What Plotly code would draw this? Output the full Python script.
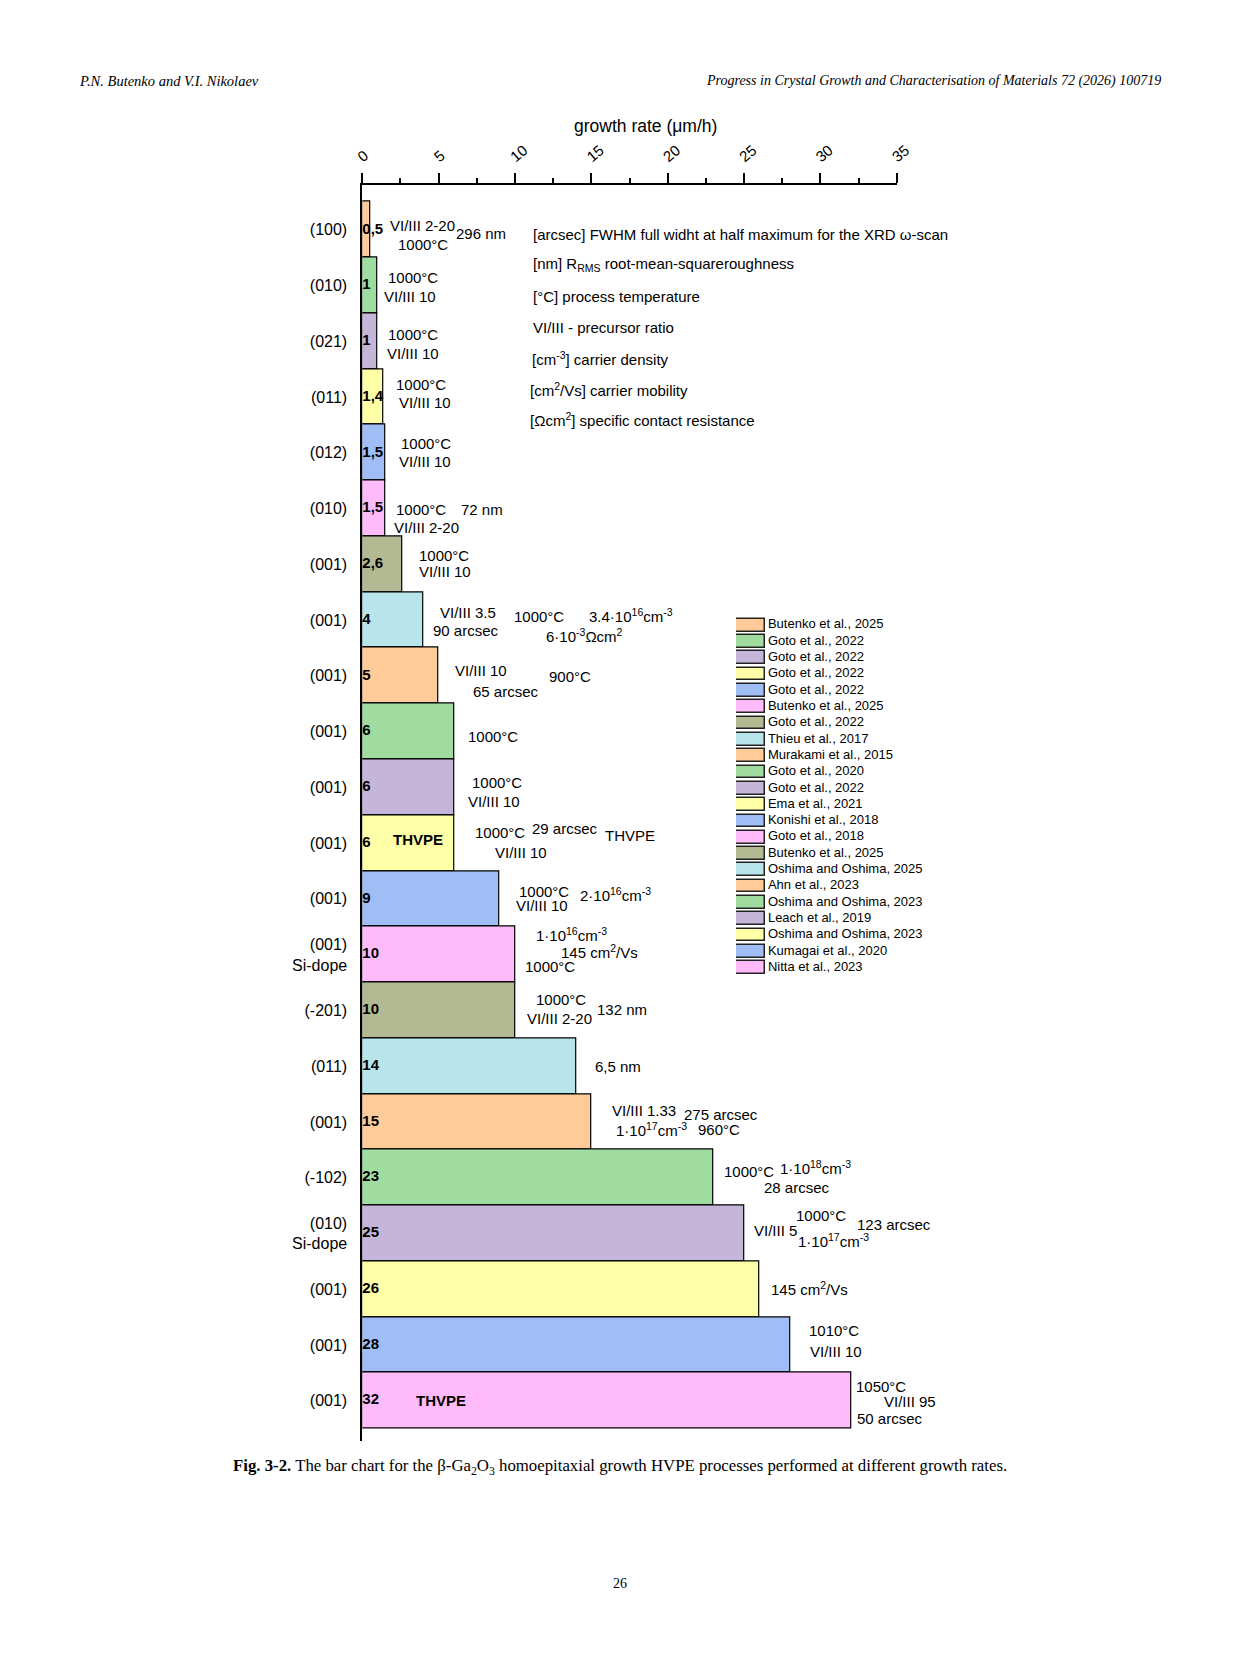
import plotly.graph_objects as go

# growth rates of beta-Ga2O3 HVPE homoepitaxy, top to bottom
planes = ['(100)', '(010)', '(021)', '(011)', '(012)', '(010)', '(001)', '(001)',
          '(001)', '(001)', '(001)', '(001)', '(001)', '(001)<br>Si-dope', '(-201)',
          '(011)', '(001)', '(-102)', '(010)<br>Si-dope', '(001)', '(001)', '(001)']
rates = [0.5, 1, 1, 1.4, 1.5, 1.5, 2.6, 4, 5, 6, 6, 6, 9, 10, 10, 14, 15, 23, 25, 26, 28, 32]
sources = ['Butenko et al., 2025', 'Goto et al., 2022', 'Goto et al., 2022',
           'Goto et al., 2022', 'Goto et al., 2022', 'Butenko et al., 2025',
           'Goto et al., 2022', 'Thieu et al., 2017', 'Murakami et al., 2015',
           'Goto et al., 2020', 'Goto et al., 2022', 'Ema et al., 2021',
           'Konishi et al., 2018', 'Goto et al., 2018', 'Butenko et al., 2025',
           'Oshima and Oshima, 2025', 'Ahn et al., 2023', 'Oshima and Oshima, 2023',
           'Leach et al., 2019', 'Oshima and Oshima, 2023', 'Kumagai et al., 2020',
           'Nitta et al., 2023']
x_ticks = [0, 5, 10, 15, 20, 25, 30, 35]

palette = ['#FFCB99', '#A0DCA0', '#C4B5D9', '#FFFFA8', '#A0BEF5', '#FFBBF9',
           '#B3B992', '#B8E5EB']

# process notes next to the bars: (row, x, row offset, text)
notes = [
    (0, 1.68, -0.08, 'VI/III 2-20'), (0, 2.2, 0.26, '1000°C'), (0, 6.0, 0.06, '296 nm'),
    (1, 1.55, -0.15, '1000°C'), (1, 1.3, 0.19, 'VI/III 10'),
    (2, 1.55, -0.13, '1000°C'), (2, 1.5, 0.21, 'VI/III 10'),
    (3, 2.1, -0.23, '1000°C'), (3, 2.3, 0.09, 'VI/III 10'),
    (4, 2.4, -0.17, '1000°C'), (4, 2.25, 0.15, 'VI/III 10'),
    (5, 2.1, 0.02, '1000°C'), (5, 6.35, 0.02, '72 nm'), (5, 1.95, 0.34, 'VI/III 2-20'),
    (6, 3.6, -0.15, '1000°C'), (6, 3.6, 0.13, 'VI/III 10'),
    (7, 4.97, -0.13, 'VI/III 3.5'), (7, 4.5, 0.19, '90 arcsec'), (7, 9.8, -0.06, '1000°C'),
    (7, 14.7, -0.09, '3.4·10<sup>16</sup>cm<sup>-3</sup>'),
    (7, 11.9, 0.28, '6·10<sup>-3</sup>Ωcm<sup>2</sup>'),
    (8, 5.95, -0.09, 'VI/III 10'), (8, 7.1, 0.28, '65 arcsec'), (8, 12.1, 0.02, '900°C'),
    (9, 6.77, 0.09, '1000°C'),
    (10, 7.05, -0.08, '1000°C'), (10, 6.77, 0.25, 'VI/III 10'),
    (11, 1.9, -0.06, '<b>THVPE</b>'), (11, 7.25, -0.19, '1000°C'),
    (11, 11.0, -0.26, '29 arcsec'), (11, 15.75, -0.13, 'THVPE'),
    (11, 8.55, 0.17, 'VI/III 10'),
    (12, 10.1, -0.14, '1000°C'), (12, 14.1, -0.08, '2·10<sup>16</sup>cm<sup>-3</sup>'),
    (12, 9.95, 0.12, 'VI/III 10'),
    (13, 11.25, -0.36, '1·10<sup>16</sup>cm<sup>-3</sup>'),
    (13, 12.9, -0.06, '145 cm<sup>2</sup>/Vs'), (13, 10.55, 0.21, '1000°C'),
    (14, 11.25, -0.19, '1000°C'), (14, 10.65, 0.15, 'VI/III 2-20'),
    (14, 15.25, -0.02, '132 nm'),
    (15, 15.1, 0.0, '6,5 nm'),
    (16, 16.2, -0.21, 'VI/III 1.33'), (16, 20.95, -0.13, '275 arcsec'),
    (16, 16.5, 0.13, '1·10<sup>17</sup>cm<sup>-3</sup>'), (16, 21.85, 0.13, '960°C'),
    (17, 23.55, -0.11, '1000°C'), (17, 27.2, -0.19, '1·10<sup>18</sup>cm<sup>-3</sup>'),
    (17, 26.2, 0.17, '28 arcsec'),
    (18, 28.3, -0.32, '1000°C'), (18, 25.5, -0.06, 'VI/III 5'),
    (18, 32.25, -0.16, '123 arcsec'), (18, 28.4, 0.13, '1·10<sup>17</sup>cm<sup>-3</sup>'),
    (19, 26.65, -0.02, '145 cm<sup>2</sup>/Vs'),
    (20, 29.15, -0.26, '1010°C'), (20, 29.2, 0.11, 'VI/III 10'),
    (21, 3.4, 0.0, '<b>THVPE</b>'), (21, 32.2, -0.26, '1050°C'),
    (21, 34.05, 0.02, 'VI/III 95'), (21, 32.25, 0.32, '50 arcsec'),
]

# key to the units used in the notes: (x, row, text)
key = [
    (11.05, 0.08, '[arcsec] FWHM full widht at half maximum for the XRD ω-scan'),
    (11.05, 0.63, '[nm] R<sub>RMS</sub> root-mean-squareroughness'),
    (11.05, 1.2, '[°C] process temperature'),
    (11.05, 1.75, 'VI/III - precursor ratio'),
    (10.98, 2.3, '[cm<sup>-3</sup>] carrier density'),
    (10.85, 2.86, '[cm<sup>2</sup>/Vs] carrier mobility'),
    (10.85, 3.41, '[Ωcm<sup>2</sup>] specific contact resistance'),
]

FONT = 'Liberation Sans, Arial, sans-serif'
SERIF = 'Liberation Serif, Times New Roman, serif'
W, H = 1241, 1654
OFF = 8  # page margin of the html body


def px(v):
    return (v - OFF) / W


def py(v):
    return 1 - (v - OFF) / H


rows = list(range(len(rates)))
colors = [palette[i % len(palette)] for i in rows]
value_text = [('%g' % r).replace('.', ',') for r in rates]

fig = go.Figure()

fig.add_trace(go.Bar(
    x=rates, y=rows, orientation='h', width=1,
    marker=dict(color=colors, line=dict(color='black', width=1.2)),
    hoverinfo='x+y', showlegend=False,
))

fig.add_trace(go.Scatter(
    x=[0] * len(rates), y=rows, mode='text', text=value_text,
    textposition='middle right', cliponaxis=False,
    textfont=dict(family=FONT, size=15, color='black', weight='bold'),
    showlegend=False, hoverinfo='skip',
))

# legend drawn as a small bar panel
fig.add_trace(go.Bar(
    x=[1] * len(sources), y=rows, orientation='h', width=0.78,
    marker=dict(color=colors, line=dict(color='#222222', width=1.5)),
    xaxis='x2', yaxis='y2', showlegend=False, hoverinfo='skip',
))
fig.add_trace(go.Scatter(
    x=[1.12] * len(sources), y=rows, mode='text', text=sources,
    textposition='middle right', cliponaxis=False,
    textfont=dict(family=FONT, size=13, color='black'),
    xaxis='x2', yaxis='y2', showlegend=False, hoverinfo='skip',
))

ann = []
for row, x, dy, txt in notes:
    ann.append(dict(x=x, y=row + dy, xref='x', yref='y', text=txt, showarrow=False,
                    xanchor='left', yanchor='middle',
                    font=dict(family=FONT, size=15, color='black')))
for x, yv, txt in key:
    ann.append(dict(x=x, y=yv, xref='x', yref='y', text=txt, showarrow=False,
                    xanchor='left', yanchor='middle',
                    font=dict(family=FONT, size=15, color='black')))

ann.append(dict(x=px(646), y=py(126.5), xref='paper', yref='paper',
                text='growth rate (μm/h)', showarrow=False,
                xanchor='center', yanchor='middle',
                font=dict(family=FONT, size=17.5, color='black')))
ann.append(dict(x=px(77), y=py(81), xref='paper', yref='paper',
                text='<i>P.N. Butenko and V.I. Nikolaev</i>', showarrow=False,
                xanchor='left', yanchor='middle',
                font=dict(family=SERIF, size=14.5, color='black')))
ann.append(dict(x=px(1163), y=py(81), xref='paper', yref='paper',
                text='<i>Progress in Crystal Growth and Characterisation of Materials 72 (2026) 100719</i>',
                showarrow=False, xanchor='right', yanchor='middle',
                font=dict(family=SERIF, size=14, color='black')))
ann.append(dict(x=px(620), y=py(1467), xref='paper', yref='paper',
                text='<b>Fig. 3-2.</b> The bar chart for the β-Ga<sub>2</sub>O<sub>3</sub> '
                     'homoepitaxial growth HVPE processes performed at different growth rates.',
                showarrow=False, xanchor='center', yanchor='middle',
                font=dict(family=SERIF, size=16.8, color='black')))
ann.append(dict(x=px(620), y=py(1583), xref='paper', yref='paper',
                text='26', showarrow=False, xanchor='center', yanchor='middle',
                font=dict(family=SERIF, size=14, color='black')))

fig.update_layout(
    width=W, height=H,
    margin=dict(l=0, r=0, t=0, b=0),
    paper_bgcolor='white', plot_bgcolor='white',
    showlegend=False, bargap=0,
    annotations=ann,
    xaxis=dict(
        domain=[px(362.3), px(896.7)], range=[0, 35], side='top',
        tickvals=x_ticks, ticktext=[str(t) for t in x_ticks], tickangle=-40,
        ticks='outside', ticklen=10, tickwidth=1.6, tickcolor='black',
        minor=dict(dtick=2.5, ticks='outside', ticklen=5, tickwidth=1.6, tickcolor='black'),
        showline=True, linecolor='black', linewidth=1.8,
        showgrid=False, zeroline=False, automargin=False,
        tickfont=dict(family=FONT, size=15, color='black'),
        ticklabelstandoff=2, ticklabelshift=-4,
    ),
    yaxis=dict(
        domain=[py(1441.2), py(184.5)], range=[21.726, -0.812],
        tickvals=rows, ticktext=planes, ticks='',
        showline=True, linecolor='black', linewidth=1.8,
        showgrid=False, zeroline=False, automargin=False,
        tickfont=dict(family=FONT, size=16, color='black'),
        ticklabelstandoff=10,
    ),
    xaxis2=dict(domain=[px(736), px(960)], range=[0, (960 - 736) / 28.5],
                visible=False, anchor='y2'),
    yaxis2=dict(domain=[py(975.8), py(617)], range=[21.5, -0.5],
                visible=False, anchor='x2'),
)

fig.write_html('out.html')
